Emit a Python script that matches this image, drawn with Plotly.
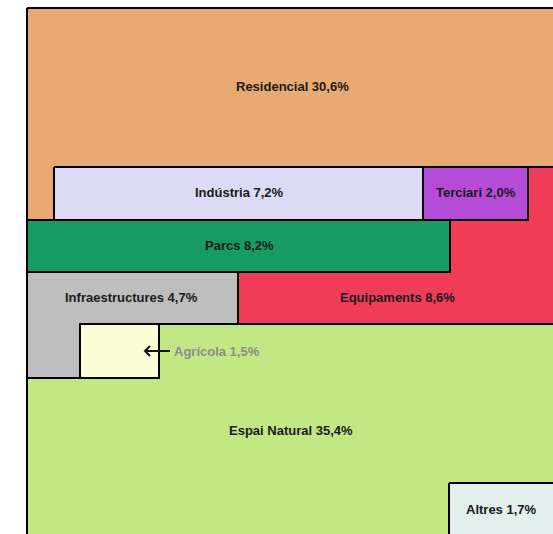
import plotly.graph_objects as go

# ---- data ----
categories = ["Residencial", "Equipaments", "Espai Natural", "Infraestructures",
              "Parcs", "Indústria", "Terciari", "Agrícola", "Altres"]
values = [30.6, 8.6, 35.4, 4.7, 8.2, 7.2, 2.0, 1.5, 1.7]
colors = ["#E8AA72", "#F03C58", "#C2E884", "#BEBEBE",
          "#169C62", "#DCDAF5", "#B44CD8", "#FAFDD6", "#E2EFEC"]

# ---- layout of the boxes (screen-like grid units, y grows downwards) ----
shapes_xy = {
    "Residencial": [(27, 8), (600, 8), (600, 220), (27, 220)],
    "Equipaments": [(238, 167), (600, 167), (600, 324), (238, 324)],
    "Espai Natural": [(27, 324), (600, 324), (600, 600), (27, 600)],
    "Infraestructures": [(27, 272), (238, 272), (238, 324), (80, 324), (80, 378), (27, 378)],
    "Parcs": [(27, 220), (450, 220), (450, 272), (27, 272)],
    "Indústria": [(54, 167), (423, 167), (423, 220), (54, 220)],
    "Terciari": [(423, 167), (528, 167), (528, 220), (423, 220)],
    "Agrícola": [(80, 324), (159, 324), (159, 378), (80, 378)],
    "Altres": [(449, 483), (600, 483), (600, 600), (449, 600)],
}
label_pos = {
    "Residencial": (292, 86, "center"),
    "Equipaments": (397, 297, "center"),
    "Espai Natural": (291, 430, "center"),
    "Infraestructures": (131, 297, "center"),
    "Parcs": (239, 245, "center"),
    "Indústria": (239, 192, "center"),
    "Terciari": (476, 192, "center"),
    "Agrícola": (172, 351, "left"),
    "Altres": (501, 509, "center"),
}

fig = go.Figure()
for name, val, col in zip(categories, values, colors):
    pts = shapes_xy[name]
    xs = [p[0] for p in pts] + [pts[0][0]]
    ys = [p[1] for p in pts] + [pts[0][1]]
    fig.add_trace(go.Scatter(x=xs, y=ys, mode="lines", fill="toself",
                             fillcolor=col, line=dict(color="#000000", width=2),
                             hoverinfo="skip", showlegend=False))

# arrow for Agrícola
fig.add_trace(go.Scatter(x=[170, 145, None, 150, 145, 150],
                         y=[351, 351, None, 346, 351, 356],
                         mode="lines", line=dict(color="#111111", width=2),
                         hoverinfo="skip", showlegend=False))

for name, val in zip(categories, values):
    x, y, anchor = label_pos[name]
    txt = f"{name} {val:.1f}%".replace(".", ",")
    fig.add_annotation(x=x, y=y, text=f"<b>{txt}</b>", showarrow=False,
                       xanchor=anchor, yanchor="middle",
                       font=dict(family="Liberation Sans, Arial, sans-serif", size=13,
                                 color="#8C8C8C" if name == "Agrícola" else "#1A1A1A"))

fig.update_layout(
    width=553, height=534,
    margin=dict(l=25, r=0, t=6, b=0),
    paper_bgcolor="white", plot_bgcolor="white",
    xaxis=dict(range=[25, 553], visible=False, fixedrange=True),
    yaxis=dict(range=[534, 6], visible=False, fixedrange=True),
)
fig.write_html("out.html", config={"displayModeBar": False},
               post_script="document.body.style.margin='0';document.body.style.overflow='hidden';")
